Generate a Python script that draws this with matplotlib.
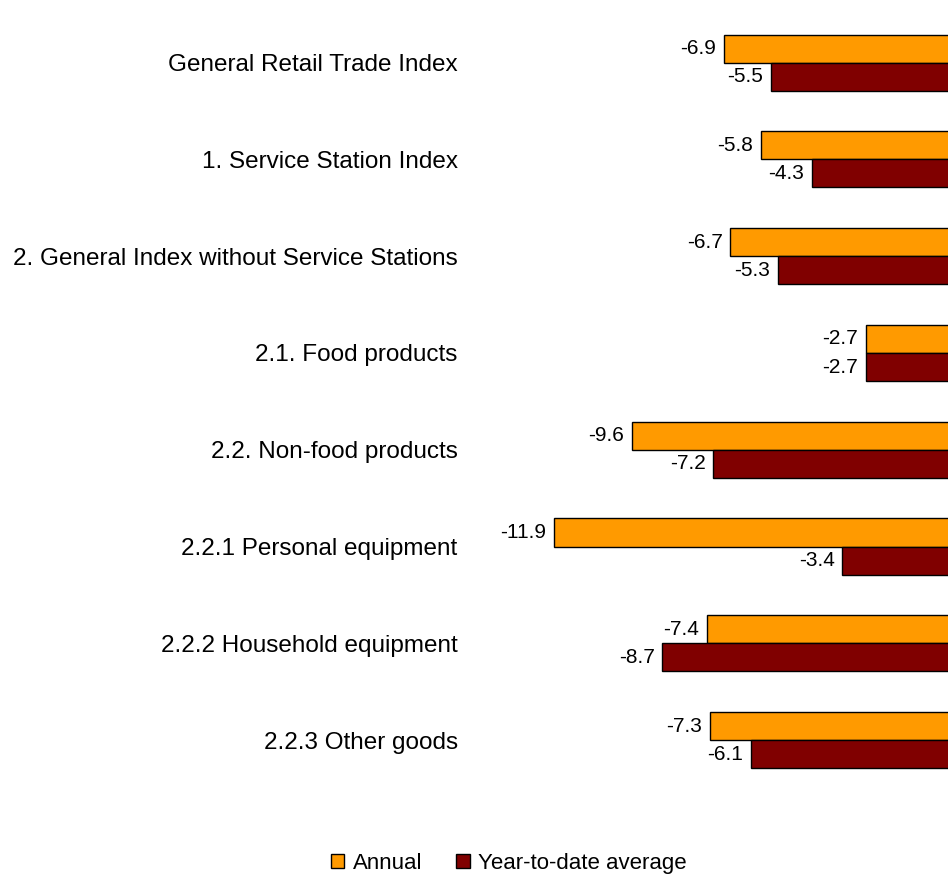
import matplotlib
matplotlib.use('Agg')
import matplotlib.pyplot as plt
import numpy as np

plt.rcParams['font.family'] = ['Liberation Sans', 'DejaVu Sans']

# Data
categories = [
    "General Retail Trade Index",
    "1. Service Station Index",
    "2. General Index without Service Stations",
    "2.1. Food products",
    "2.2. Non-food products",
    "2.2.1 Personal equipment",
    "2.2.2 Household equipment",
    "2.2.3 Other goods",
]
annual = [-6.9, -5.8, -6.7, -2.7, -9.6, -11.9, -7.4, -7.3]
ytd_avg = [-5.5, -4.3, -5.3, -2.7, -7.2, -3.4, -8.7, -6.1]
series_names = ["Annual", "Year-to-date average"]

orange = '#FF9A00'
darkred = '#800000'

fig = plt.figure(figsize=(9.48, 8.75), dpi=100)
ax = fig.add_axes([0.5092, 0.0989, 0.5009, 0.8848])

y = np.arange(len(categories))
h = 0.29

ax.barh(y - h / 2, annual, height=h, color=orange, edgecolor='black',
        linewidth=1.0, label=series_names[0])
ax.barh(y + h / 2, ytd_avg, height=h, color=darkred, edgecolor='black',
        linewidth=1.0, label=series_names[1])

# value labels
for i in range(len(categories)):
    ax.annotate(f"{annual[i]:.1f}", (annual[i], y[i] - h / 2),
                xytext=(-5.5, 0), textcoords='offset points',
                ha='right', va='center', fontsize=15)
    ax.annotate(f"{ytd_avg[i]:.1f}", (ytd_avg[i], y[i] + h / 2),
                xytext=(-5.5, 0), textcoords='offset points',
                ha='right', va='center', fontsize=15)

ax.set_xlim(-14, 0)
ax.set_ylim(len(categories) - 0.5, -0.5)
ax.set_yticks(y)
ax.set_yticklabels(categories, fontsize=17.5)
ax.tick_params(axis='y', length=0, pad=18)
ax.set_xticks([])
for s in ax.spines.values():
    s.set_visible(False)

fig.legend(loc='center', bbox_to_anchor=(0.537, 0.0137), ncol=2,
           frameon=False, fontsize=16, handlelength=0.6, handleheight=0.6,
           handletextpad=0.4, columnspacing=1.5)

fig.savefig('out.png', dpi=100)
